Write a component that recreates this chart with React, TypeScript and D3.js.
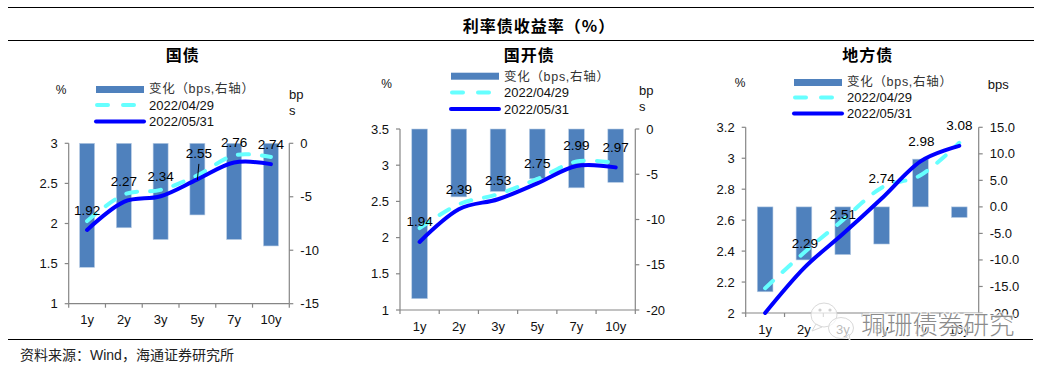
import React from "react";
import * as d3 from "d3";

const categories = ["1y", "2y", "3y", "5y", "7y", "10y"];
const legendNames = ["变化（bps,右轴）", "2022/04/29", "2022/05/31"];

const guozhaiChange = [-11.6, -7.9, -9.0, -6.7, -9.0, -9.6];
const guozhaiApr = [2.03, 2.36, 2.42, 2.6, 2.85, 2.83];
const guozhaiMay = [1.92, 2.27, 2.34, 2.55, 2.76, 2.74];

const guokaiChange = [-18.75, -7.5, -6.9, -5.5, -6.5, -5.9];
const guokaiApr = [2.13, 2.46, 2.6, 2.81, 3.05, 3.03];
const guokaiMay = [1.94, 2.39, 2.53, 2.75, 2.99, 2.97];

const difangChange = [-16, -10, -9, -7, 9, -2];
const difangApr = [2.16, 2.39, 2.6, 2.81, 2.89, 3.1];
const difangMay = [2.0, 2.29, 2.51, 2.74, 2.98, 3.08];

const guozhaiLeftTicks = [1, 1.5, 2, 2.5, 3];
const guozhaiRightTicks = [-15, -10, -5, 0];
const guokaiLeftTicks = [1, 1.5, 2, 2.5, 3, 3.5];
const guokaiRightTicks = [-20, -15, -10, -5, 0];
const difangLeftTicks = [2, 2.2, 2.4, 2.6, 2.8, 3, 3.2];
const difangRightTicks = [-20, -15, -10, -5, 0, 5, 10, 15];

const ARIAL = "'Liberation Sans', Arial, sans-serif";
const CJK = "'Liberation Sans', 'Noto Sans CJK SC', sans-serif";
const AXIS = "#868686";

type Panel = {
  title: string; titleX: number;
  change: number[]; apr: number[]; may: number[];
  leftTicks: number[]; rightTicks: number[];
  rightFmt: (v: number) => string;
  x0: number; x1: number; y0: number; y1: number; barW: number;
  legX: number; legBarY: number; legRows: number[];
  pctX: number; pctY: number;
  unit: string[]; unitX: number; unitY: number;
  hideFirstLabel?: boolean;
  labelDy: number[];
  labelDx: number[];
  leader?: boolean;
};

const panels: Panel[] = [
  {
    title: "国债", titleX: 182.7, change: guozhaiChange, apr: guozhaiApr, may: guozhaiMay,
    leftTicks: guozhaiLeftTicks, rightTicks: guozhaiRightTicks, rightFmt: (v) => String(v),
    x0: 68.7, x1: 289.3, y0: 303.7, y1: 143.3, barW: 15,
    legX: 96, legBarY: 86, legRows: [88.7, 105, 121.5],
    pctX: 61, pctY: 90, unit: ["bp", "s"], unitX: 289, unitY: 94,
    labelDy: [-19, -20, -19.5, -25.7, -20, -20], labelDx: [0, 0, 0, 1.5, 0, 0], leader: true,
  },
  {
    title: "国开债", titleX: 529.3, change: guokaiChange, apr: guokaiApr, may: guokaiMay,
    leftTicks: guokaiLeftTicks, rightTicks: guokaiRightTicks, rightFmt: (v) => String(v),
    x0: 400, x1: 635.3, y0: 310, y1: 129, barW: 15.7,
    legX: 451, legBarY: 72.7, legRows: [76.5, 92.5, 109],
    pctX: 386.7, pctY: 84, unit: ["bp", "s"], unitX: 639, unitY: 90,
    labelDy: [-20, -20, -19, -20, -20, -20], labelDx: [0, 0, 0, 0, 0, 0],
  },
  {
    title: "地方债", titleX: 867.7, change: difangChange, apr: difangApr, may: difangMay,
    leftTicks: difangLeftTicks, rightTicks: difangRightTicks, rightFmt: (v) => v.toFixed(1),
    x0: 745.7, x1: 978.7, y0: 313, y1: 127.3, barW: 15.7,
    legX: 794, legBarY: 79, legRows: [82, 97.5, 113.5],
    pctX: 740, pctY: 83, unit: ["bps"], unitX: 987.7, unitY: 84,
    hideFirstLabel: true,
    labelDy: [0, -25, -20, -20, -20, -20], labelDx: [0, 1, 0, 0, 1, 0],
  },
];

function ChartPanel({ p }: { p: Panel }) {
  const step = (p.x1 - p.x0) / categories.length;
  const pad = 1 - p.barW / step;
  const x = d3.scaleBand<string>().domain(categories).range([p.x0, p.x1]).paddingInner(pad).paddingOuter(pad / 2);
  const cx = (c: string) => (x(c) as number) + x.bandwidth() / 2;
  const left = d3.scaleLinear().domain(d3.extent(p.leftTicks) as [number, number]).range([p.y0, p.y1]);
  const right = d3.scaleLinear().domain(d3.extent(p.rightTicks) as [number, number]).range([p.y0, p.y1]);
  const line = d3.line<number>().x((_, i) => cx(categories[i])).y((v) => left(v)).curve(d3.curveCardinal.tension(0));
  const boundaries = d3.range(categories.length + 1).map((i) => p.x0 + i * step);
  const tickText = { fontFamily: ARIAL, fontSize: 13, fill: "#111" };

  return (
    <g>
      <text x={p.titleX} y={54} textAnchor="middle" dominantBaseline="central"
        style={{ fontFamily: "'Noto Sans CJK SC', sans-serif", fontSize: 16, fontWeight: 700, letterSpacing: 1 }}>{p.title}</text>

      {categories.map((c, i) => (
        <rect key={c} x={x(c)} width={x.bandwidth()}
          y={Math.min(right(0), right(p.change[i]))}
          height={Math.abs(right(p.change[i]) - right(0))}
          fill="#4f81bd" stroke="#b9cde5" strokeWidth={0.6} />
      ))}

      <line x1={p.x0} x2={p.x0} y1={p.y1} y2={p.y0} stroke={AXIS} strokeWidth={1.2} />
      <line x1={p.x1} x2={p.x1} y1={p.y1} y2={p.y0} stroke={AXIS} strokeWidth={1.2} />
      <line x1={p.x0} x2={p.x1} y1={p.y0} y2={p.y0} stroke={AXIS} strokeWidth={1.2} />
      {boundaries.map((b) => <line key={b} x1={b} x2={b} y1={p.y0} y2={p.y0 + 4} stroke={AXIS} strokeWidth={1.2} />)}
      {p.leftTicks.map((t) => (
        <g key={t}>
          <line x1={p.x0 - 4} x2={p.x0} y1={left(t)} y2={left(t)} stroke={AXIS} strokeWidth={1.2} />
          <text x={p.x0 - 11} y={left(t)} textAnchor="end" dominantBaseline="central" style={tickText}>{String(t)}</text>
        </g>
      ))}
      {p.rightTicks.map((t) => (
        <g key={t}>
          <line x1={p.x1} x2={p.x1 + 4} y1={right(t)} y2={right(t)} stroke={AXIS} strokeWidth={1.2} />
          <text x={p.x1 + 11} y={right(t)} textAnchor="start" dominantBaseline="central" style={tickText}>{p.rightFmt(t)}</text>
        </g>
      ))}
      {categories.map((c) => (
        <text key={c} x={cx(c)} y={p.y0 + 16} textAnchor="middle" dominantBaseline="central" style={tickText}>{c}</text>
      ))}

      <path d={line(p.apr) as string} fill="none" stroke="#66ffff" strokeWidth={4} strokeLinecap="round" strokeDasharray="11 13" />
      <path d={line(p.may) as string} fill="none" stroke="#0000ff" strokeWidth={4} strokeLinecap="round" strokeLinejoin="round" />

      {p.leader && (
        <line x1={cx("5y") + 1.5} y1={left(p.may[3]) - 15.5} x2={cx("5y")} y2={left(p.may[3]) + 0.5} stroke="#000" strokeWidth={1} />
      )}
      {categories.map((c, i) => (p.hideFirstLabel && i === 0 ? null : (
        <text key={c} x={cx(c) + p.labelDx[i]} y={left(p.may[i]) + p.labelDy[i]} textAnchor="middle" dominantBaseline="central"
          style={{ fontFamily: ARIAL, fontSize: 13.5, fill: "#000" }}>{p.may[i].toFixed(2)}</text>
      )))}

      <rect x={p.legX} y={p.legBarY} width={48} height={7} fill="#4f81bd" />
      <text x={p.legX + 53} y={p.legRows[0]} dominantBaseline="central"
        style={{ fontFamily: CJK, fontSize: 12.5, fill: "#333", letterSpacing: 0.7 }}>{legendNames[0]}</text>
      <line x1={p.legX + 1} x2={p.legX + 47} y1={p.legRows[1]} y2={p.legRows[1]} stroke="#66ffff" strokeWidth={4} strokeLinecap="round" strokeDasharray="11 15" />
      <text x={p.legX + 53} y={p.legRows[1]} dominantBaseline="central" style={tickText}>{legendNames[1]}</text>
      <line x1={p.legX} x2={p.legX + 48} y1={p.legRows[2]} y2={p.legRows[2]} stroke="#0000ff" strokeWidth={4} strokeLinecap="round" />
      <text x={p.legX + 53} y={p.legRows[2]} dominantBaseline="central" style={tickText}>{legendNames[2]}</text>

      <text x={p.pctX} y={p.pctY} textAnchor="middle" dominantBaseline="central" style={{ ...tickText, fontSize: 12 }}>%</text>
      {p.unit.map((u, i) => (
        <text key={u} x={p.unitX} y={p.unitY + i * 16} dominantBaseline="central" style={{ ...tickText, fontSize: 13 }}>{u}</text>
      ))}
    </g>
  );
}

function Watermark() {
  return (
    <g>
      <ellipse cx={824} cy={315} rx={13} ry={12} fill="#fff" fillOpacity={0.7} stroke="#d9d9d9" strokeWidth={1} />
      <path d="M816 324 L812 331 L822 327 Z" fill="#fff" fillOpacity={0.7} stroke="#d9d9d9" strokeWidth={1} />
      <circle cx={820} cy={310} r={1.6} fill="#d0d0d0" />
      <circle cx={830} cy={310} r={1.6} fill="#d0d0d0" />
      <ellipse cx={841} cy={328} rx={12.5} ry={10.5} fill="#fff" fillOpacity={0.7} stroke="#d9d9d9" strokeWidth={1} />
      <path d="M846 337 L850 340 L849 334 Z" fill="#fff" fillOpacity={0.7} stroke="#d9d9d9" strokeWidth={1} />
      <text x={938} y={322} textAnchor="middle" dominantBaseline="central" stroke="#fff" strokeWidth={2.5} strokeOpacity={0.75} paintOrder="stroke"
        style={{ fontFamily: "'Noto Sans CJK SC', sans-serif", fontSize: 25.5, fontWeight: 300, fill: "#8c8c8c" }}>珮珊债券研究</text>
    </g>
  );
}

export default function App() {
  return (
    <svg width={1050} height={368} style={{ position: "absolute", left: 0, top: 0, background: "#fff" }}>
      <line x1={8} x2={1034} y1={7.5} y2={7.5} stroke="#000" strokeWidth={1} />
      <line x1={8} x2={1034} y1={40.5} y2={40.5} stroke="#000" strokeWidth={1} />
      <line x1={8} x2={1033} y1={339.5} y2={339.5} stroke="#000" strokeWidth={1} />
      <text x={539} y={25} textAnchor="middle" dominantBaseline="central"
        style={{ fontFamily: "'Noto Sans CJK SC', sans-serif", fontSize: 16, fontWeight: 700, letterSpacing: 1 }}>利率债收益率（%）</text>
      {panels.map((p) => <ChartPanel key={p.title} p={p} />)}
      <Watermark />
      <text x={20} y={355} dominantBaseline="central"
        style={{ fontFamily: CJK, fontSize: 14, fill: "#222" }}>资料来源：Wind，海通证券研究所</text>
    </svg>
  );
}
